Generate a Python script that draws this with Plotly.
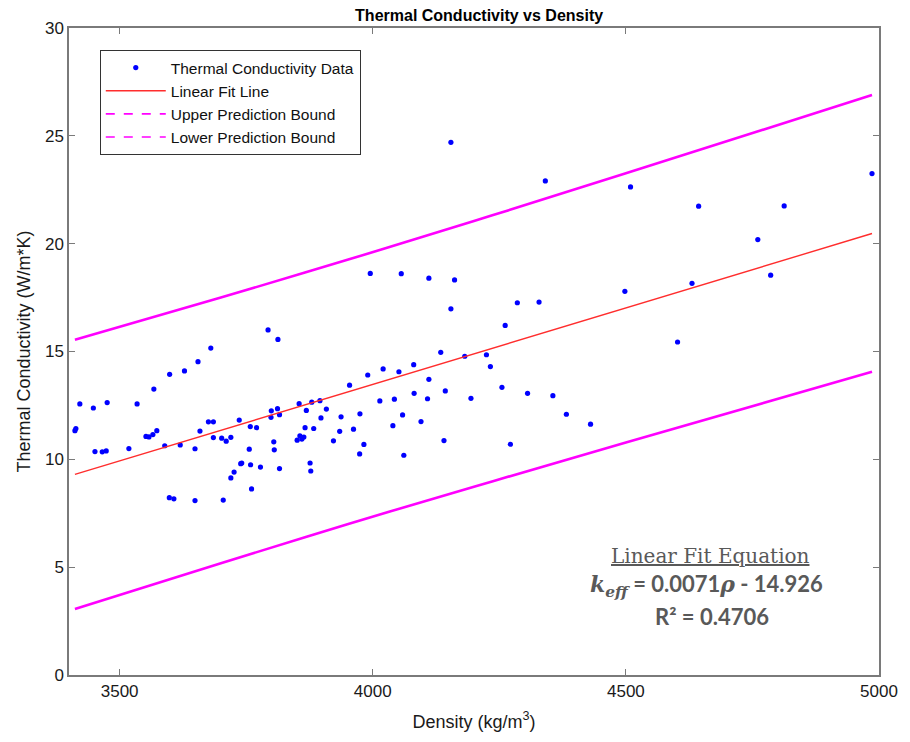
import plotly.graph_objects as go

# ---- data ----
density = [3411.7, 3413.6, 3421.4, 3448.1, 3475.4, 3451.3, 3465.7, 3473.5, 3518.3, 3534.5,
           3567.6, 3598.8, 3628.1, 3654.8, 3680.1, 3552.0, 3557.9, 3565.7, 3573.5, 3589.1,
           3619.7, 3648.9, 3658.7, 3675.4, 3685.2, 3685.2, 3701.6, 3710.5, 3719.7, 3736.3,
           3719.7, 3726.1, 3598.2, 3607.2, 3648.9, 3704.7, 3739.2, 3741.2, 3793.2, 3812.7,
           3990.1, 4020.5, 4051.7, 3954.2, 3758.1, 3770.4, 3799.6, 3811.9, 3799.0, 3815.8,
           3854.6, 3879.5, 3895.7, 3868.8, 3908.4, 3897.7, 3937.4, 3974.7, 4014.0, 4042.7,
           4058.9, 4039.8, 3866.3, 3883.4, 3934.7, 3962.0, 3856.1, 3863.9, 3860.0, 3850.7,
           3804.5, 3805.5, 3756.1, 3922.4, 3982.5, 3974.1, 4061.4, 3758.7, 3778.2, 3815.8,
           3876.2, 3877.6, 3760.6, 4261.6, 4134.3, 4181.7, 4224.6, 4232.4, 4080.9, 4110.9,
           4081.7, 4108.2, 4143.3, 4194.0, 4255.2, 4305.8, 4355.8, 4095.3, 4140.7, 4271.9,
           4382.5, 4430.2, 4154.4, 4340.9, 3995.1, 4056.3, 4110.9, 4161.6, 4154.4, 4285.6,
           4328.5, 4986.2, 4509.2, 4643.7, 4812.7, 4760.6, 4498.0, 4630.6, 4786.0, 4602.1]
conductivity = [11.33, 11.43, 12.57, 12.38, 12.63, 10.36, 10.35, 10.39, 10.50, 12.57,
                13.26, 13.94, 14.10, 14.53, 15.16, 11.06, 11.04, 11.15, 11.33, 10.63,
                10.67, 10.49, 11.31, 11.74, 11.74, 11.01, 10.98, 10.84, 11.02, 11.82,
                9.14, 9.41, 8.22, 8.17, 8.09, 8.11, 9.80, 9.83, 16.00, 15.56,
                13.91, 14.19, 14.06, 13.44, 11.52, 11.47, 12.25, 12.35, 11.95, 12.07,
                12.58, 12.65, 12.72, 12.27, 12.33, 11.92, 11.97, 12.11, 12.71, 12.79,
                12.06, 11.56, 11.47, 11.43, 11.30, 11.40, 11.09, 11.03, 10.94, 10.89,
                10.81, 10.44, 10.47, 10.86, 10.69, 10.25, 10.19, 9.75, 9.64, 9.57,
                9.83, 9.46, 8.63, 16.21, 14.96, 14.78, 14.85, 14.30, 14.39, 13.71,
                13.06, 12.81, 13.17, 12.83, 13.34, 13.06, 12.95, 11.75, 10.87, 10.70,
                12.09, 11.63, 24.70, 22.91, 18.62, 18.61, 18.40, 18.32, 16.98, 17.26,
                17.29, 23.25, 22.63, 21.74, 21.75, 20.19, 17.79, 18.16, 18.54, 15.44]

fit_density = [3411.7, 4986.2]
fit_k = [9.30, 20.47]

bound_density = [3411.7, 3700, 3950, 4200, 4500, 4986.2]
upper_bound = [15.54, 17.50, 19.25, 21.05, 23.26, 26.89]
lower_bound = [3.06, 5.18, 6.99, 8.73, 10.78, 14.06]

x_ticks = [3500, 4000, 4500, 5000]
y_ticks = [0, 5, 10, 15, 20, 25, 30]

eq_title = "Linear Fit Equation"
eq_line = " = 0.0071"
eq_tail = " - 14.926"
r2_text = "R² = 0.4706"

MAG = "#ff00ff"
RED = "rgb(255,45,45)"
BLUE = "#0000ff"

fig = go.Figure()

fig.add_trace(go.Scatter(x=density, y=conductivity, mode="markers",
                         marker=dict(color=BLUE, size=5.2),
                         name="Thermal Conductivity Data"))
fig.add_trace(go.Scatter(x=fit_density, y=fit_k, mode="lines",
                         line=dict(color=RED, width=1.4),
                         name="Linear Fit Line"))
fig.add_trace(go.Scatter(x=bound_density, y=upper_bound, mode="lines",
                         line=dict(color=MAG, width=2.6, shape="spline"),
                         showlegend=False))
fig.add_trace(go.Scatter(x=bound_density, y=lower_bound, mode="lines",
                         line=dict(color=MAG, width=2.6, shape="spline"),
                         showlegend=False))
# legend-only entries with dashed styling
fig.add_trace(go.Scatter(x=[None], y=[None], mode="lines",
                         line=dict(color=MAG, width=1.6, dash="dash"),
                         name="Upper Prediction Bound"))
fig.add_trace(go.Scatter(x=[None], y=[None], mode="lines",
                         line=dict(color=MAG, width=1.6, dash="dash"),
                         name="Lower Prediction Bound"))

axis_common = dict(showline=True, linecolor="#7a7a7a", linewidth=1.5,
                   mirror="ticks", ticks="inside", ticklen=6, tickwidth=1,
                   tickcolor="#7a7a7a", showgrid=False, zeroline=False,
                   tickfont=dict(family="Liberation Sans, Arial", size=17, color="#1a1a1a"))

fig.update_xaxes(range=[3400, 5000], tickvals=x_ticks,
                 ticktext=[str(v) for v in x_ticks],
                 title=dict(text="Density (kg/m<sup>3</sup>)",
                            font=dict(family="Liberation Sans, Arial", size=18, color="#1a1a1a"),
                            standoff=15),
                 **axis_common)
fig.update_yaxes(range=[0, 30], tickvals=y_ticks,
                 ticktext=[str(v) for v in y_ticks],
                 title=dict(text="Thermal Conductivity (W/m*K)",
                            font=dict(family="Liberation Sans, Arial", size=18, color="#1a1a1a"),
                            standoff=10),
                 **axis_common)

GRAY = "#595959"
fig.add_annotation(xref="paper", yref="paper", x=0.792, y=0.184,
                   text=eq_title, showarrow=False, xanchor="center", yanchor="middle",
                   font=dict(family="DejaVu Serif, Liberation Serif", size=20, color=GRAY,
                             lineposition="under"))
fig.add_annotation(xref="paper", yref="paper", x=0.787, y=0.139,
                   text=("<span style='font-family:DejaVu Serif'><b><i>k</i></b><sub><b><i>eff</i></b></sub></span>"
                         "<b>" + eq_line + "</b><span style='font-family:DejaVu Serif'><b><i>ρ</i></b></span><b>" + eq_tail + "</b>"),
                   showarrow=False, xanchor="center", yanchor="middle",
                   font=dict(family="Lato, Open Sans", size=22, color=GRAY))
fig.add_annotation(xref="paper", yref="paper", x=0.794, y=0.091,
                   text="<b>" + r2_text + "</b>", showarrow=False,
                   xanchor="center", yanchor="middle",
                   font=dict(family="Lato, Open Sans", size=22, color=GRAY))

fig.update_layout(
    width=910, height=742,
    margin=dict(l=69, r=20, t=28, b=67),
    paper_bgcolor="white", plot_bgcolor="white",
    title=dict(text="<b>Thermal Conductivity vs Density</b>", x=0.5265, xanchor="center",
               y=0.979, yanchor="middle",
               font=dict(family="Liberation Sans, Arial", size=16, color="black")),
    legend=dict(x=0.038, y=0.966, xanchor="left", yanchor="top",
                bgcolor="white", bordercolor="#333333", borderwidth=1,
                font=dict(family="Liberation Sans, Arial", size=15.5, color="#111111"),
                tracegroupgap=0, itemwidth=60),
    showlegend=True,
)

fig.write_html("out.html")
